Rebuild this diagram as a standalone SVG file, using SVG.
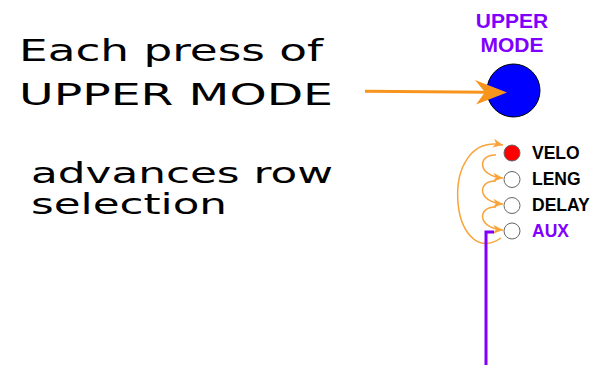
<svg xmlns="http://www.w3.org/2000/svg" width="591" height="365" viewBox="0 0 591 365">
<style>
.big{font-family:"DejaVu Sans",sans-serif;fill:#000}
.lbl{font-family:"Liberation Sans",Arial,sans-serif;font-weight:bold;font-size:17.5px;fill:#000}
.purple{fill:#8000ff}
.led{stroke:#666;stroke-width:1}
.loop{fill:none;stroke:#f9a43a;stroke-width:1.5}
</style>
<defs>
<marker id="ah" markerUnits="userSpaceOnUse" markerWidth="12" markerHeight="10" refX="10" refY="4.5" orient="auto" viewBox="0 0 12 10">
<path d="M0,0 L10,4.5 L0,9 L3,4.5 z" fill="#f9a43a"/>
</marker>
</defs>
<rect width="591" height="365" fill="#fff"/>
<g id="caption">
<text class="big" x="19" y="61" font-size="30" textLength="304" lengthAdjust="spacingAndGlyphs">Each press of</text>
<text class="big" x="19" y="104.5" font-size="31" textLength="314" lengthAdjust="spacingAndGlyphs">UPPER MODE</text>
<text class="big" x="31" y="183" font-size="28" textLength="302" lengthAdjust="spacingAndGlyphs">advances row</text>
<text class="big" x="31" y="214" font-size="28" textLength="196" lengthAdjust="spacingAndGlyphs">selection</text>
</g>
<g id="upper-mode">
<text class="lbl purple" x="512" y="28" text-anchor="middle" style="font-size:21px">UPPER</text>
<text class="lbl purple" x="512" y="52" text-anchor="middle" style="font-size:21px">MODE</text>
<circle cx="513.5" cy="90.5" r="26.5" fill="#0000ff" stroke="#000" stroke-width="1"/>
</g>
<g id="velo"><circle class="led" cx="512" cy="153" r="8" fill="#ff0000"/><text class="lbl" x="532" y="158.5">VELO</text></g>
<g id="leng"><circle class="led" cx="512" cy="179.5" r="8" fill="#fff"/><text class="lbl" x="532" y="184.5">LENG</text></g>
<g id="delay"><circle class="led" cx="512" cy="205.5" r="8" fill="#fff"/><text class="lbl" x="532" y="210.5">DELAY</text></g>
<g id="aux"><circle class="led" cx="512" cy="231" r="8" fill="#fff"/><text class="lbl purple" x="532" y="236.5">AUX</text></g>
<g id="connectors">
<line x1="365" y1="91.3" x2="488" y2="92.3" stroke="#f7941d" stroke-width="3"/>
<path d="M507,92.5 L475,80 L485,92.3 L476,104.5 z" fill="#f7941d"/>
<path class="loop" d="M496,155 C478,154 476,176 503,178" marker-end="url(#ah)"/>
<path class="loop" d="M496,181 C478,180 476,202 503,204" marker-end="url(#ah)"/>
<path class="loop" d="M496,207 C478,206 476,228 503,230" marker-end="url(#ah)"/>
<path class="loop" d="M501,238 C450,272 436,132 503,145" marker-end="url(#ah)"/>
<polyline points="494,232 486,232 486,365" fill="none" stroke="#8000ff" stroke-width="3"/>
</g>
</svg>
